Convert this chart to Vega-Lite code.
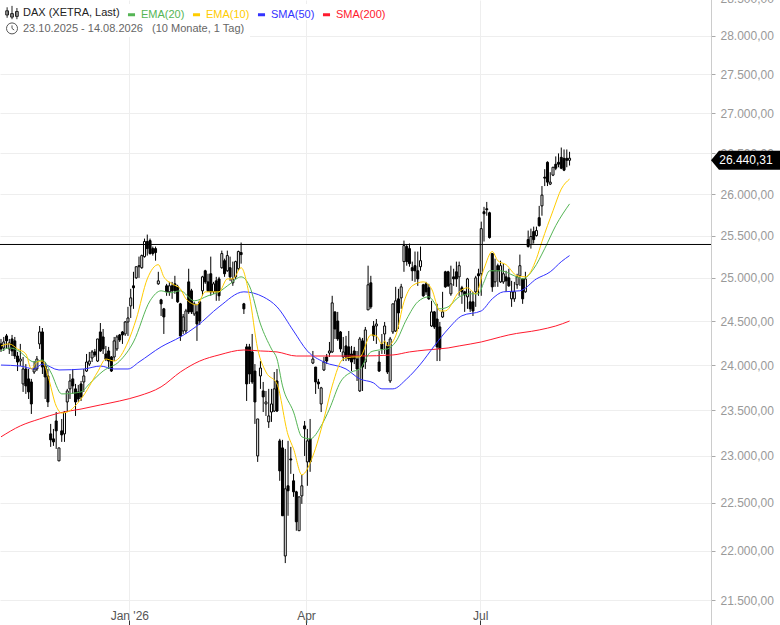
{
  "$schema": "https://vega.github.io/schema/vega-lite/v6.json",
  "description": "DAX (XETRA, Last) candlesticks with moving averages",
  "width": 711,
  "height": 625,
  "autosize": {"type": "none"},
  "padding": {"left": 0, "top": 0, "right": 69, "bottom": 0},
  "background": "white",
  "view": {"stroke": null},
  "title": {
    "text": "DAX (XETRA, Last)",
    "subtitle": "23.10.2025 - 14.08.2026\u00a0\u00a0\u00a0(10 Monate, 1 Tag)",
    "anchor": "start",
    "frame": "group",
    "dx": 23,
    "offset": -42,
    "subtitlePadding": 5,
    "font": "Liberation Sans",
    "fontSize": 11,
    "fontWeight": "normal",
    "color": "#222222",
    "subtitleFont": "Liberation Sans",
    "subtitleFontSize": 11,
    "subtitleColor": "#666666"
  },
  "datasets": {
    "candles": [
      {"n":0,"o":24239,"h":24295,"l":24148,"c":24182},{"n":1,"o":24193,"h":24318,"l":24159,"c":24261},{"n":2,"o":24330,"h":24352,"l":24182,"c":24273},{"n":3,"o":24182,"h":24295,"l":24125,"c":24250},
      {"n":4,"o":24295,"h":24341,"l":24102,"c":24159},{"n":5,"o":24273,"h":24318,"l":24068,"c":24102},{"n":6,"o":24102,"h":24148,"l":23933,"c":24034},{"n":7,"o":24045,"h":24239,"l":23989,"c":24068},
      {"n":8,"o":23789,"h":24091,"l":23700,"c":23956},{"n":9,"o":23956,"h":24011,"l":23678,"c":23767},{"n":10,"o":23845,"h":23956,"l":23622,"c":23700},{"n":11,"o":23811,"h":23845,"l":23457,"c":23567},
      {"n":12,"o":23922,"h":24045,"l":23900,"c":23956},{"n":13,"o":23956,"h":24102,"l":23933,"c":24068},{"n":14,"o":24239,"h":24443,"l":24182,"c":24375},{"n":15,"o":24375,"h":24420,"l":23900,"c":23978},
      {"n":16,"o":23989,"h":24034,"l":23622,"c":23867},{"n":17,"o":23878,"h":23956,"l":23533,"c":23589},{"n":18,"o":23239,"h":23348,"l":23098,"c":23174},{"n":19,"o":23185,"h":23293,"l":23109,"c":23152},
      {"n":20,"o":23380,"h":23478,"l":23076,"c":23272},{"n":21,"o":22947,"h":23087,"l":22947,"c":23087},{"n":22,"o":23272,"h":23402,"l":23152,"c":23228},{"n":23,"o":23239,"h":23489,"l":23152,"c":23478},
      {"n":24,"o":23589,"h":23734,"l":23478,"c":23711},{"n":25,"o":23734,"h":23900,"l":23622,"c":23822},{"n":26,"o":23845,"h":23956,"l":23678,"c":23767},{"n":27,"o":23734,"h":23789,"l":23435,"c":23589},
      {"n":28,"o":23700,"h":23778,"l":23589,"c":23622},{"n":29,"o":23789,"h":23822,"l":23600,"c":23645},{"n":30,"o":23811,"h":23956,"l":23700,"c":23878},{"n":31,"o":23933,"h":24125,"l":23922,"c":24034},
      {"n":32,"o":24011,"h":24148,"l":23989,"c":24045},{"n":33,"o":24080,"h":24170,"l":24034,"c":24148},{"n":34,"o":24148,"h":24182,"l":24091,"c":24114},{"n":35,"o":24045,"h":24295,"l":24034,"c":24295},
      {"n":36,"o":24375,"h":24477,"l":24148,"c":24159},{"n":37,"o":24318,"h":24409,"l":24125,"c":24182},{"n":38,"o":24125,"h":24216,"l":24045,"c":24068},{"n":39,"o":24159,"h":24205,"l":23956,"c":24045},
      {"n":40,"o":24091,"h":24102,"l":23922,"c":23933},{"n":41,"o":24091,"h":24318,"l":24045,"c":24273},{"n":42,"o":24182,"h":24341,"l":24159,"c":24318},{"n":43,"o":24341,"h":24352,"l":24261,"c":24284},
      {"n":44,"o":24375,"h":24386,"l":24239,"c":24341},{"n":45,"o":24352,"h":24500,"l":24330,"c":24489},{"n":46,"o":24489,"h":24663,"l":24330,"c":24535},{"n":47,"o":24674,"h":24872,"l":24535,"c":24767},
      {"n":48,"o":24907,"h":25071,"l":24640,"c":24884},{"n":49,"o":25000,"h":25131,"l":24988,"c":25131},{"n":50,"o":25131,"h":25250,"l":25000,"c":25143},{"n":51,"o":25119,"h":25274,"l":25107,"c":25262},
      {"n":52,"o":25250,"h":25464,"l":25238,"c":25429},{"n":53,"o":25429,"h":25512,"l":25262,"c":25345},{"n":54,"o":25440,"h":25464,"l":25274,"c":25286},{"n":55,"o":25345,"h":25369,"l":25262,"c":25286},
      {"n":56,"o":25345,"h":25369,"l":25202,"c":25298},{"n":57,"o":24930,"h":25071,"l":24919,"c":24965},{"n":58,"o":24744,"h":24756,"l":24558,"c":24698},{"n":59,"o":24640,"h":24651,"l":24352,"c":24547},
      {"n":60,"o":24907,"h":24930,"l":24791,"c":24837},{"n":61,"o":24837,"h":24953,"l":24791,"c":24907},{"n":62,"o":24907,"h":24953,"l":24756,"c":24849},{"n":63,"o":24930,"h":25024,"l":24814,"c":24849},
      {"n":64,"o":24895,"h":24919,"l":24709,"c":24721},{"n":65,"o":24698,"h":24709,"l":24273,"c":24330},{"n":66,"o":24386,"h":24581,"l":24352,"c":24547},{"n":67,"o":24386,"h":24640,"l":24352,"c":24616},
      {"n":68,"o":24953,"h":25107,"l":24581,"c":24605},{"n":69,"o":24849,"h":24872,"l":24581,"c":24605},{"n":70,"o":24581,"h":24721,"l":24558,"c":24698},{"n":71,"o":24605,"h":24698,"l":24273,"c":24466},
      {"n":72,"o":24721,"h":24733,"l":24455,"c":24500},{"n":73,"o":24849,"h":25024,"l":24791,"c":25012},{"n":74,"o":25083,"h":25095,"l":24930,"c":24953},{"n":75,"o":24953,"h":25048,"l":24837,"c":24849},
      {"n":76,"o":25048,"h":25250,"l":24791,"c":24837},{"n":77,"o":24837,"h":24953,"l":24814,"c":24930},{"n":78,"o":24965,"h":25012,"l":24733,"c":24837},{"n":79,"o":24988,"h":25012,"l":24733,"c":24791},
      {"n":80,"o":25119,"h":25321,"l":25107,"c":25286},{"n":81,"o":25202,"h":25226,"l":25012,"c":25048},{"n":82,"o":25083,"h":25321,"l":25071,"c":25262},{"n":83,"o":25119,"h":25250,"l":24965,"c":25012},
      {"n":84,"o":24942,"h":25191,"l":24907,"c":24988},{"n":85,"o":25012,"h":25202,"l":24988,"c":25191},{"n":86,"o":25107,"h":25321,"l":25083,"c":25310},{"n":87,"o":25298,"h":25417,"l":25167,"c":25274},
      {"n":88,"o":24698,"h":24709,"l":24581,"c":24640},{"n":89,"o":24205,"h":24239,"l":23600,"c":23789},{"n":90,"o":24205,"h":24239,"l":23789,"c":23900},{"n":91,"o":24148,"h":24352,"l":23789,"c":23811},
      {"n":92,"o":23933,"h":24011,"l":23348,"c":23589},{"n":93,"o":23000,"h":23402,"l":22936,"c":23402},{"n":94,"o":23878,"h":24045,"l":23734,"c":23967},{"n":95,"o":23711,"h":23811,"l":23478,"c":23645},
      {"n":96,"o":23567,"h":23711,"l":23435,"c":23589},{"n":97,"o":23370,"h":23734,"l":23304,"c":23435},{"n":98,"o":23478,"h":23734,"l":23370,"c":23567},{"n":99,"o":23489,"h":23922,"l":23478,"c":23734},
      {"n":100,"o":23822,"h":23956,"l":23478,"c":23489},{"n":101,"o":23163,"h":23185,"l":22734,"c":22840},{"n":102,"o":23087,"h":23174,"l":22365,"c":22365},{"n":103,"o":21948,"h":23076,"l":21875,"c":22649},
      {"n":104,"o":22681,"h":23163,"l":22365,"c":22628},{"n":105,"o":22968,"h":23098,"l":22808,"c":22957},{"n":106,"o":22734,"h":22808,"l":22564,"c":22617},{"n":107,"o":22617,"h":22628,"l":22209,"c":22302},
      {"n":108,"o":22209,"h":22564,"l":22209,"c":22564},{"n":109,"o":22574,"h":22798,"l":22490,"c":22681},{"n":110,"o":23326,"h":23380,"l":23000,"c":23293},{"n":111,"o":22936,"h":23293,"l":22681,"c":23163},
      {"n":112,"o":23185,"h":23402,"l":22830,"c":22936},{"n":113,"o":24023,"h":24159,"l":24011,"c":24068},{"n":114,"o":23978,"h":23978,"l":23678,"c":23811},{"n":115,"o":23811,"h":23845,"l":23734,"c":23789},
      {"n":116,"o":23567,"h":23756,"l":23478,"c":23745},{"n":117,"o":23945,"h":24091,"l":23933,"c":24034},{"n":118,"o":24091,"h":24125,"l":24011,"c":24045},{"n":119,"o":24136,"h":24261,"l":24091,"c":24159},
      {"n":120,"o":24148,"h":24791,"l":24136,"c":24709},{"n":121,"o":24605,"h":24605,"l":24295,"c":24409},{"n":122,"o":24500,"h":24605,"l":24273,"c":24295},{"n":123,"o":24375,"h":24386,"l":24148,"c":24182},
      {"n":124,"o":24091,"h":24318,"l":24045,"c":24148},{"n":125,"o":24216,"h":24330,"l":24045,"c":24091},{"n":126,"o":24205,"h":24386,"l":24045,"c":24068},{"n":127,"o":24125,"h":24216,"l":23933,"c":24034},
      {"n":128,"o":24159,"h":24205,"l":24011,"c":24068},{"n":129,"o":24068,"h":24159,"l":23822,"c":23956},{"n":130,"o":23711,"h":24318,"l":23700,"c":24295},{"n":131,"o":24273,"h":24307,"l":23711,"c":23978},
      {"n":132,"o":24034,"h":24432,"l":23956,"c":24398},{"n":133,"o":24628,"h":25143,"l":24628,"c":24919},{"n":134,"o":24942,"h":25024,"l":24640,"c":24663},{"n":135,"o":24443,"h":24500,"l":24273,"c":24330},
      {"n":136,"o":24443,"h":24523,"l":24239,"c":24466},{"n":137,"o":24034,"h":24159,"l":23922,"c":23933},{"n":138,"o":24239,"h":24352,"l":24125,"c":24182},{"n":139,"o":24352,"h":24489,"l":24125,"c":24443},
      {"n":140,"o":24216,"h":24261,"l":23900,"c":23922},{"n":141,"o":23822,"h":24318,"l":23800,"c":24295},{"n":142,"o":24375,"h":24698,"l":24352,"c":24698},{"n":143,"o":24386,"h":24895,"l":24375,"c":24733},
      {"n":144,"o":24756,"h":24872,"l":24409,"c":24593},{"n":145,"o":24767,"h":24930,"l":24640,"c":24895},{"n":146,"o":25191,"h":25440,"l":25071,"c":25381},{"n":147,"o":25369,"h":25393,"l":25143,"c":25191},
      {"n":148,"o":25345,"h":25405,"l":25131,"c":25167},{"n":149,"o":25119,"h":25191,"l":24965,"c":25083},{"n":150,"o":25143,"h":25310,"l":24953,"c":25083},{"n":151,"o":25083,"h":25310,"l":24907,"c":24988},
      {"n":152,"o":25131,"h":25369,"l":25083,"c":25202},{"n":153,"o":24919,"h":24930,"l":24779,"c":24791},{"n":154,"o":24930,"h":24953,"l":24802,"c":24837},{"n":155,"o":24884,"h":24930,"l":24744,"c":24756},
      {"n":156,"o":24443,"h":24733,"l":24432,"c":24605},{"n":157,"o":24605,"h":24616,"l":24409,"c":24432},{"n":158,"o":24523,"h":24698,"l":24045,"c":24205},{"n":159,"o":24432,"h":24489,"l":24045,"c":24182},
      {"n":160,"o":24547,"h":24837,"l":24535,"c":24605},{"n":161,"o":25071,"h":25083,"l":24884,"c":24895},{"n":162,"o":25071,"h":25083,"l":24895,"c":24907},{"n":163,"o":24814,"h":25143,"l":24791,"c":24930},
      {"n":164,"o":25012,"h":25107,"l":24907,"c":24988},{"n":165,"o":25071,"h":25191,"l":24895,"c":24988},{"n":166,"o":25012,"h":25191,"l":24791,"c":25143},{"n":167,"o":24884,"h":24907,"l":24698,"c":24837},
      {"n":168,"o":24837,"h":24849,"l":24605,"c":24802},{"n":169,"o":24779,"h":25000,"l":24640,"c":24988},{"n":170,"o":24721,"h":24849,"l":24605,"c":24640},{"n":171,"o":24721,"h":24837,"l":24558,"c":24616},
      {"n":172,"o":24837,"h":25024,"l":24663,"c":25000},{"n":173,"o":25048,"h":25107,"l":24791,"c":25024},{"n":174,"o":25048,"h":25667,"l":24791,"c":25583},{"n":175,"o":25786,"h":25845,"l":25429,"c":25762},
      {"n":176,"o":25822,"h":25905,"l":25738,"c":25810},{"n":177,"o":25774,"h":25786,"l":25464,"c":25476},{"n":178,"o":25286,"h":25286,"l":24837,"c":24895},{"n":179,"o":24953,"h":25226,"l":24895,"c":25083},
      {"n":180,"o":25143,"h":25167,"l":24895,"c":25083},{"n":181,"o":24953,"h":25202,"l":24942,"c":25143},{"n":182,"o":24953,"h":25167,"l":24930,"c":25048},{"n":183,"o":25012,"h":25083,"l":24837,"c":24965},
      {"n":184,"o":25000,"h":25107,"l":24895,"c":24907},{"n":185,"o":24756,"h":24965,"l":24663,"c":24837},{"n":186,"o":24756,"h":24953,"l":24721,"c":24837},{"n":187,"o":24919,"h":25048,"l":24872,"c":25012},
      {"n":188,"o":25024,"h":25274,"l":24907,"c":25143},{"n":189,"o":24988,"h":24988,"l":24698,"c":24756},{"n":190,"o":24837,"h":25071,"l":24826,"c":24988},{"n":191,"o":25452,"h":25560,"l":25357,"c":25369},
      {"n":192,"o":25393,"h":25583,"l":25345,"c":25488},{"n":193,"o":25548,"h":25607,"l":25405,"c":25452},{"n":194,"o":25500,"h":25607,"l":25488,"c":25560},{"n":195,"o":25714,"h":25857,"l":25607,"c":25619},
      {"n":196,"o":25857,"h":26098,"l":25738,"c":25988},{"n":197,"o":26207,"h":26305,"l":26098,"c":26195},{"n":198,"o":26390,"h":26402,"l":26098,"c":26146},{"n":199,"o":26122,"h":26268,"l":26110,"c":26146},
      {"n":200,"o":26232,"h":26329,"l":26220,"c":26329},{"n":201,"o":26366,"h":26463,"l":26293,"c":26317},{"n":202,"o":26390,"h":26500,"l":26329,"c":26366},{"n":203,"o":26451,"h":26573,"l":26305,"c":26317},
      {"n":204,"o":26439,"h":26549,"l":26281,"c":26293},{"n":205,"o":26439,"h":26549,"l":26329,"c":26415},{"n":206,"o":26415,"h":26520,"l":26350,"c":26440.31}
    ],
    "averages": [
      {"s":"SMA(200)","n":0,"v":23207},{"s":"SMA(200)","n":7,"v":23326},{"s":"SMA(200)","n":14,"v":23402},{"s":"SMA(200)","n":21,"v":23467},{"s":"SMA(200)","n":29,"v":23511},{"s":"SMA(200)","n":36,"v":23556},{"s":"SMA(200)","n":43,"v":23600},{"s":"SMA(200)","n":50,"v":23656},{"s":"SMA(200)","n":58,"v":23756},{"s":"SMA(200)","n":65,"v":23922},{"s":"SMA(200)","n":72,"v":24045},{"s":"SMA(200)","n":79,"v":24114},{"s":"SMA(200)","n":88,"v":24170},{"s":"SMA(200)","n":94,"v":24159},{"s":"SMA(200)","n":100,"v":24148},{"s":"SMA(200)","n":107,"v":24102},{"s":"SMA(200)","n":113,"v":24102},{"s":"SMA(200)","n":130,"v":24102},{"s":"SMA(200)","n":142,"v":24114},{"s":"SMA(200)","n":148,"v":24148},{"s":"SMA(200)","n":154,"v":24170},{"s":"SMA(200)","n":162,"v":24193},{"s":"SMA(200)","n":166,"v":24216},{"s":"SMA(200)","n":174,"v":24261},{"s":"SMA(200)","n":181,"v":24318},{"s":"SMA(200)","n":184,"v":24341},{"s":"SMA(200)","n":195,"v":24398},{"s":"SMA(200)","n":201,"v":24443},{"s":"SMA(200)","n":206,"v":24500},
      {"s":"SMA(50)","n":0,"v":24000},{"s":"SMA(50)","n":7,"v":23989},{"s":"SMA(50)","n":12,"v":23956},{"s":"SMA(50)","n":15,"v":24011},{"s":"SMA(50)","n":21,"v":23945},{"s":"SMA(50)","n":30,"v":23956},{"s":"SMA(50)","n":36,"v":23989},{"s":"SMA(50)","n":41,"v":23956},{"s":"SMA(50)","n":46,"v":23956},{"s":"SMA(50)","n":50,"v":24034},{"s":"SMA(50)","n":58,"v":24205},{"s":"SMA(50)","n":65,"v":24318},{"s":"SMA(50)","n":71,"v":24443},{"s":"SMA(50)","n":79,"v":24663},{"s":"SMA(50)","n":88,"v":24837},{"s":"SMA(50)","n":95,"v":24779},{"s":"SMA(50)","n":100,"v":24663},{"s":"SMA(50)","n":106,"v":24386},{"s":"SMA(50)","n":111,"v":24159},{"s":"SMA(50)","n":117,"v":24034},{"s":"SMA(50)","n":125,"v":23956},{"s":"SMA(50)","n":130,"v":23845},{"s":"SMA(50)","n":135,"v":23800},{"s":"SMA(50)","n":138,"v":23734},{"s":"SMA(50)","n":142,"v":23734},{"s":"SMA(50)","n":147,"v":23845},{"s":"SMA(50)","n":152,"v":24011},{"s":"SMA(50)","n":157,"v":24216},{"s":"SMA(50)","n":162,"v":24409},{"s":"SMA(50)","n":167,"v":24560},{"s":"SMA(50)","n":174,"v":24616},{"s":"SMA(50)","n":178,"v":24756},{"s":"SMA(50)","n":182,"v":24837},{"s":"SMA(50)","n":188,"v":24849},{"s":"SMA(50)","n":194,"v":24988},{"s":"SMA(50)","n":199,"v":25071},{"s":"SMA(50)","n":203,"v":25190},{"s":"SMA(50)","n":206,"v":25262},
      {"s":"EMA(20)","n":0,"v":24159},{"s":"EMA(20)","n":3,"v":24193},{"s":"EMA(20)","n":7,"v":24148},{"s":"EMA(20)","n":9,"v":24091},{"s":"EMA(20)","n":12,"v":24034},{"s":"EMA(20)","n":15,"v":24057},{"s":"EMA(20)","n":18,"v":23922},{"s":"EMA(20)","n":22,"v":23678},{"s":"EMA(20)","n":29,"v":23700},{"s":"EMA(20)","n":32,"v":23789},{"s":"EMA(20)","n":37,"v":23933},{"s":"EMA(20)","n":43,"v":24045},{"s":"EMA(20)","n":48,"v":24261},{"s":"EMA(20)","n":54,"v":24733},{"s":"EMA(20)","n":58,"v":24849},{"s":"EMA(20)","n":61,"v":24826},{"s":"EMA(20)","n":65,"v":24849},{"s":"EMA(20)","n":70,"v":24733},{"s":"EMA(20)","n":75,"v":24791},{"s":"EMA(20)","n":79,"v":24837},{"s":"EMA(20)","n":83,"v":24930},{"s":"EMA(20)","n":87,"v":25012},{"s":"EMA(20)","n":90,"v":24907},{"s":"EMA(20)","n":94,"v":24466},{"s":"EMA(20)","n":98,"v":24182},{"s":"EMA(20)","n":100,"v":24068},{"s":"EMA(20)","n":102,"v":23767},{"s":"EMA(20)","n":106,"v":23478},{"s":"EMA(20)","n":109,"v":23207},{"s":"EMA(20)","n":112,"v":23185},{"s":"EMA(20)","n":116,"v":23326},{"s":"EMA(20)","n":119,"v":23511},{"s":"EMA(20)","n":123,"v":23811},{"s":"EMA(20)","n":127,"v":23922},{"s":"EMA(20)","n":130,"v":23956},{"s":"EMA(20)","n":134,"v":24148},{"s":"EMA(20)","n":137,"v":24170},{"s":"EMA(20)","n":140,"v":24182},{"s":"EMA(20)","n":143,"v":24261},{"s":"EMA(20)","n":147,"v":24523},{"s":"EMA(20)","n":151,"v":24721},{"s":"EMA(20)","n":155,"v":24779},{"s":"EMA(20)","n":159,"v":24640},{"s":"EMA(20)","n":162,"v":24663},{"s":"EMA(20)","n":166,"v":24779},{"s":"EMA(20)","n":170,"v":24814},{"s":"EMA(20)","n":173,"v":24814},{"s":"EMA(20)","n":175,"v":24953},{"s":"EMA(20)","n":177,"v":25083},{"s":"EMA(20)","n":181,"v":25083},{"s":"EMA(20)","n":186,"v":25024},{"s":"EMA(20)","n":189,"v":24988},{"s":"EMA(20)","n":193,"v":25107},{"s":"EMA(20)","n":197,"v":25345},{"s":"EMA(20)","n":201,"v":25619},{"s":"EMA(20)","n":206,"v":25881},
      {"s":"EMA(10)","n":0,"v":24216},{"s":"EMA(10)","n":3,"v":24239},{"s":"EMA(10)","n":6,"v":24182},{"s":"EMA(10)","n":9,"v":24125},{"s":"EMA(10)","n":11,"v":23956},{"s":"EMA(10)","n":13,"v":24034},{"s":"EMA(10)","n":15,"v":24045},{"s":"EMA(10)","n":17,"v":23878},{"s":"EMA(10)","n":20,"v":23544},{"s":"EMA(10)","n":22,"v":23467},{"s":"EMA(10)","n":24,"v":23478},{"s":"EMA(10)","n":29,"v":23622},{"s":"EMA(10)","n":35,"v":23922},{"s":"EMA(10)","n":38,"v":24068},{"s":"EMA(10)","n":41,"v":24045},{"s":"EMA(10)","n":46,"v":24261},{"s":"EMA(10)","n":49,"v":24523},{"s":"EMA(10)","n":53,"v":24988},{"s":"EMA(10)","n":57,"v":25155},{"s":"EMA(10)","n":59,"v":25012},{"s":"EMA(10)","n":62,"v":24930},{"s":"EMA(10)","n":65,"v":24872},{"s":"EMA(10)","n":67,"v":24756},{"s":"EMA(10)","n":71,"v":24686},{"s":"EMA(10)","n":74,"v":24837},{"s":"EMA(10)","n":79,"v":24837},{"s":"EMA(10)","n":82,"v":24988},{"s":"EMA(10)","n":84,"v":24988},{"s":"EMA(10)","n":87,"v":25119},{"s":"EMA(10)","n":90,"v":24791},{"s":"EMA(10)","n":93,"v":24182},{"s":"EMA(10)","n":96,"v":23922},{"s":"EMA(10)","n":100,"v":23789},{"s":"EMA(10)","n":104,"v":23228},{"s":"EMA(10)","n":106,"v":23076},{"s":"EMA(10)","n":109,"v":22798},{"s":"EMA(10)","n":113,"v":23000},{"s":"EMA(10)","n":117,"v":23402},{"s":"EMA(10)","n":120,"v":23767},{"s":"EMA(10)","n":124,"v":24068},{"s":"EMA(10)","n":128,"v":24091},{"s":"EMA(10)","n":130,"v":24091},{"s":"EMA(10)","n":134,"v":24341},{"s":"EMA(10)","n":136,"v":24330},{"s":"EMA(10)","n":138,"v":24239},{"s":"EMA(10)","n":139,"v":24273},{"s":"EMA(10)","n":140,"v":24216},{"s":"EMA(10)","n":143,"v":24330},{"s":"EMA(10)","n":146,"v":24721},{"s":"EMA(10)","n":149,"v":24907},{"s":"EMA(10)","n":153,"v":24953},{"s":"EMA(10)","n":156,"v":24872},{"s":"EMA(10)","n":159,"v":24616},{"s":"EMA(10)","n":161,"v":24616},{"s":"EMA(10)","n":166,"v":24837},{"s":"EMA(10)","n":169,"v":24884},{"s":"EMA(10)","n":172,"v":24814},{"s":"EMA(10)","n":175,"v":25107},{"s":"EMA(10)","n":178,"v":25310},{"s":"EMA(10)","n":180,"v":25202},{"s":"EMA(10)","n":183,"v":25155},{"s":"EMA(10)","n":187,"v":25024},{"s":"EMA(10)","n":190,"v":25012},{"s":"EMA(10)","n":194,"v":25226},{"s":"EMA(10)","n":196,"v":25429},{"s":"EMA(10)","n":200,"v":25798},{"s":"EMA(10)","n":203,"v":26061},{"s":"EMA(10)","n":206,"v":26183}
    ]
  },
  "layer": [
    {
      "data": {"name": "candles"},
      "mark": {"type": "rule", "color": "black", "strokeWidth": 1},
      "encoding": {
        "x": {
          "field": "n",
          "type": "quantitative",
          "title": null,
          "scale": {"domain": [-0.362, 257.246], "nice": false, "zero": false, "padding": 0},
          "axis": {
            "values": [46.5, 110.5, 173.6],
            "labelExpr": "datum.value < 60 ? \"Jan '26\" : datum.value < 120 ? 'Apr' : 'Jul'",
            "domain": false,
            "grid": true,
            "gridColor": "#eeeeee",
            "gridWidth": 1,
            "tickColor": "#333333",
            "tickSize": -5,
            "labelPadding": -10,
            "labelFont": "Liberation Sans",
            "labelFontSize": 12,
            "labelColor": "#555555",
            "labelFlush": false,
            "labelOverlap": false
          }
        },
        "y": {
          "field": "l",
          "type": "quantitative",
          "title": null,
          "scale": {"type": "log", "domain": [21250, 28500], "range": [625, -2], "nice": false, "zero": false},
          "axis": {
            "orient": "right",
            "values": [21500, 22000, 22500, 23000, 23500, 24000, 24500, 25000, 25500, 26000, 26500, 27000, 27500, 28000, 28500],
            "labelExpr": "replace(format(datum.value, ',.0f'), ',', '.') + ',00'",
            "domain": true,
            "domainColor": "#cccccc",
            "grid": true,
            "gridColor": "#eeeeee",
            "gridWidth": 1,
            "tickColor": "#aaaaaa",
            "tickSize": 4,
            "labelPadding": 5,
            "labelFont": "Liberation Sans",
            "labelFontSize": 12,
            "labelColor": "#999999",
            "labelBound": false,
            "labelOverlap": false
          }
        },
        "y2": {"field": "h"}
      }
    },
    {
      "data": {"name": "candles"},
      "mark": {"type": "bar", "size": 2, "stroke": "black", "strokeWidth": 1},
      "encoding": {
        "x": {"field": "n", "type": "quantitative"},
        "y": {"field": "o", "type": "quantitative"},
        "y2": {"field": "c"},
        "fill": {
          "condition": {"test": "datum.c < datum.o", "value": "black"},
          "value": "white"
        }
      }
    },
    {
      "data": {"name": "averages"},
      "mark": {"type": "line", "strokeWidth": 1, "interpolate": "monotone"},
      "encoding": {
        "x": {"field": "n", "type": "quantitative"},
        "y": {"field": "v", "type": "quantitative"},
        "color": {
          "field": "s",
          "type": "nominal",
          "scale": {
            "domain": ["EMA(20)", "EMA(10)", "SMA(50)", "SMA(200)"],
            "range": ["#55b555", "#ffcc00", "#3333ff", "#ff1a2e"]
          },
          "legend": {
            "title": null,
            "orient": "none",
            "legendX": 126,
            "legendY": 9,
            "direction": "horizontal",
            "columns": 4,
            "columnPadding": 1,
            "symbolType": "stroke",
            "symbolSize": 50,
            "symbolStrokeWidth": 3,
            "labelOffset": 4,
            "labelFont": "Liberation Sans",
            "labelFontSize": 11,
            "labelColor": {"expr": "scale('color', datum.value)"}
          }
        }
      }
    },
    {
      "data": {"values": [{"level": 25394}]},
      "mark": {"type": "rule", "color": "black", "strokeWidth": 1},
      "encoding": {"y": {"field": "level", "type": "quantitative"}}
    },
    {
      "data": {"values": [{"box": "row 1"}]},
      "mark": {"type": "rect", "color": "white", "opacity": 1},
      "encoding": {
        "x": {"datum": -0.362},
        "x2": {"datum": 140.9},
        "y": {"datum": 28208},
        "y2": {"datum": 28420}
      }
    },
    {
      "data": {"values": [{"box": "row 2"}]},
      "mark": {"type": "rect", "color": "white", "opacity": 1},
      "encoding": {
        "x": {"datum": -0.362},
        "x2": {"datum": 90.2},
        "y": {"datum": 27984},
        "y2": {"datum": 28208}
      }
    },
    {
      "data": {"values": [{"last": 26440.31}]},
      "mark": {
        "type": "point",
        "shape": "M-1,0.058L-0.77,-0.217L1,-0.217L1,0.333L-0.77,0.333Z",
        "size": 4761,
        "filled": true,
        "opacity": 1,
        "color": "black"
      },
      "encoding": {
        "x": {"datum": 269.75},
        "y": {"field": "last", "type": "quantitative"}
      }
    },
    {
      "data": {"values": [{"last": 26440.31}]},
      "mark": {
        "type": "text",
        "text": "26.440,31",
        "font": "Liberation Sans",
        "fontSize": 12,
        "color": "white",
        "align": "center",
        "dy": 2
      },
      "encoding": {
        "x": {"datum": 269.9},
        "y": {"field": "last", "type": "quantitative"}
      }
    },
    {
      "data": {"values": [{"p": 28302}]},
      "mark": {
        "type": "point",
        "shape": "M-.7,-.8V.7M-.9,-.3H-.5V.3H-.9ZM0,-1V.9M-.2,.1H.2V.6H-.2ZM.7,-.7V.9M.5,-.2H.9V.5H.5Z",
        "size": 196,
        "filled": false,
        "opacity": 1,
        "stroke": "#222222",
        "strokeWidth": 1
      },
      "encoding": {
        "x": {"datum": 3.99},
        "y": {"field": "p", "type": "quantitative"}
      }
    },
    {
      "data": {"values": [{"p": 28097}]},
      "mark": {
        "type": "point",
        "shape": "M1,0A1,1 0 1 1 -1,0A1,1 0 1 1 1,0ZM0,-.55V0L.4,.3",
        "size": 121,
        "filled": false,
        "opacity": 1,
        "stroke": "#555555",
        "strokeWidth": 1
      },
      "encoding": {
        "x": {"datum": 3.99},
        "y": {"field": "p", "type": "quantitative"}
      }
    }
  ]
}
